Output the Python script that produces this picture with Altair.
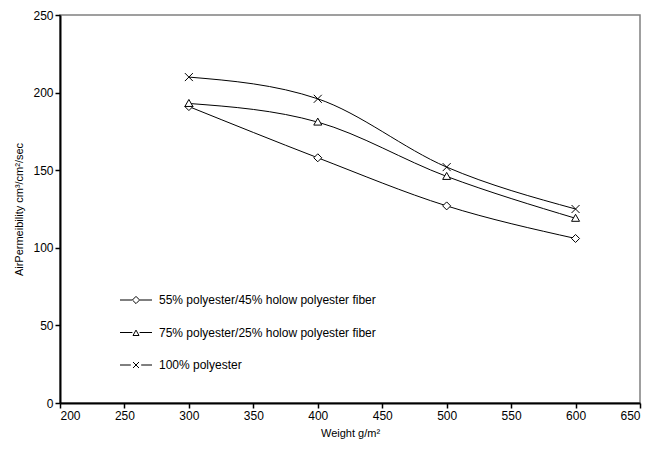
import altair as alt
import pandas as pd

weights = [300, 400, 500, 600]
series_names = [
    "55% polyester/45% holow polyester fiber",
    "75% polyester/25% holow polyester fiber",
    "100% polyester",
]
s55 = [191, 158, 127, 106]
s75 = [193, 181, 146, 119]
s100 = [210, 196, 152, 125]
x_ticks = [200, 250, 300, 350, 400, 450, 500, 550, 600, 650]
y_ticks = [0, 50, 100, 150, 200, 250]

rows = []
for name, vals in zip(series_names, [s55, s75, s100]):
    for w, v in zip(weights, vals):
        rows.append({"weight": w, "perm": v, "series": name})
df = pd.DataFrame(rows)

marker_paths = [
    "M0,-1L1,0L0,1L-1,0Z",
    "M0,-1L1,0.75L-1,0.75Z",
    "M-1,-1L1,1M-1,1L1,-1",
]
legend_paths = [
    "M-4,0L-1,0M1,0L4,0M0,-0.9L0.9,0L0,0.9L-0.9,0Z",
    "M-4,0L-0.9,0M0.9,0L4,0M0,-0.6L0.75,0.75L-0.75,0.75Z",
    "M-4,0L-1.3,0M1.3,0L4,0M-0.75,-0.75L0.75,0.75M-0.75,0.75L0.75,-0.75",
]

FONT = "Liberation Sans"

base = alt.Chart(df).encode(
    x=alt.X(
        "weight:Q",
        scale=alt.Scale(domain=[200, 650], nice=False, zero=False),
        axis=alt.Axis(values=x_ticks, title="Weight g/m²", titlePadding=6),
    ),
    y=alt.Y(
        "perm:Q",
        scale=alt.Scale(domain=[0, 250], nice=False),
        axis=alt.Axis(values=y_ticks, title="AirPermeibility cm³/cm²/sec", titlePadding=8),
    ),
)

lines = base.mark_line(interpolate="monotone", color="black", strokeWidth=1).encode(
    detail="series:N"
)

points = base.mark_point(
    filled=True, fill="white", stroke="black", strokeWidth=1, size=64, opacity=1
).encode(
    shape=alt.Shape(
        "series:N",
        scale=alt.Scale(domain=series_names, range=marker_paths),
        legend=None,
    )
)

legend_layer = (
    base.transform_filter("false")
    .transform_calculate(leg="datum.series")
    .mark_point(filled=False, color="black", strokeWidth=1, size=64, opacity=1)
    .encode(
        shape=alt.Shape(
            "leg:N",
            scale=alt.Scale(domain=series_names, range=legend_paths),
            legend=alt.Legend(
                orient="none",
                legendX=70,
                legendY=279,
                title=None,
                labelFont=FONT,
                labelFontSize=12,
                labelColor="black",
                labelOffset=17,
                labelLimit=500,
                rowPadding=20.5,
                padding=0,
                symbolSize=64,
                symbolStrokeWidth=1,
                symbolStrokeColor="black",
            ),
        )
    )
)

chart = (
    alt.layer(lines, points, legend_layer)
    .resolve_scale(shape="independent")
    .resolve_legend(shape="independent")
    .properties(
        width=580,
        height=388,
        padding={"left": 5, "top": 1, "right": 5, "bottom": 5},
        background="white",
    )
    .configure_axis(
        labelFont=FONT,
        labelFontSize=12,
        labelColor="black",
        titleFont=FONT,
        titleFontSize=11,
        titleFontWeight="normal",
        titleColor="black",
        domainColor="black",
        domainWidth=2,
        tickColor="black",
        tickSize=5,
        tickWidth=1.5,
        labelPadding=2,
        grid=False,
    )
    .configure_view(stroke="#808080", strokeWidth=1.5)
)

chart.save("out.html", embed_options={"renderer": "svg", "actions": False})
